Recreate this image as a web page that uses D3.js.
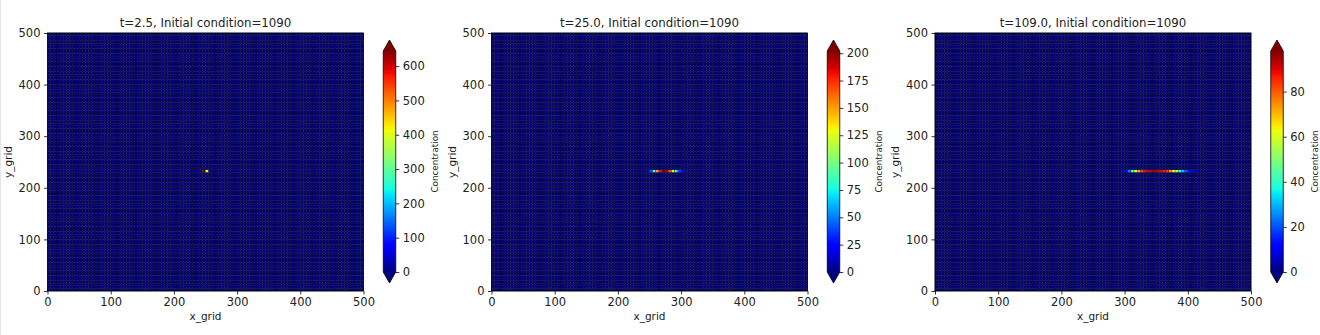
<!DOCTYPE html>
<html>
<head>
<meta charset="utf-8">
<script src="https://cdn.jsdelivr.net/npm/d3@7"></script>
<style>
body { margin: 0; background: #fff; }
svg { display: block; font-family: "DejaVu Sans", sans-serif; }
</style>
</head>
<body>
<script>
// ---- data ----
var gridStep = 5;               // cell size of the model grid
var gridMax = 500;
var axisTicks = [0, 100, 200, 300, 400, 500];
var titles = ["t=2.5, Initial condition=1090", "t=25.0, Initial condition=1090", "t=109.0, Initial condition=1090"];
var plumeRow = 230;             // lower edge (y_grid) of the row holding the plume

var plume1X = [245, 250];
var plume1V = [644, 400];

var plume2X = [245, 250, 255, 260, 265, 270, 275, 280, 285, 290, 295, 300, 305];
var plume2V = [10, 40, 82, 150, 182, 202, 196, 168, 118, 78, 38, 16, 6];

var plume3X = [295, 300, 305, 310, 315, 320, 325, 330, 335, 340, 345, 350, 355, 360, 365, 370, 375, 380, 385, 390, 395, 400, 405, 410];
var plume3V = [5, 12, 24, 40, 58, 72, 82, 88, 91, 93, 97, 92, 90, 88, 84, 74, 64, 54, 42, 31, 21, 13, 8, 4];

var cbarMax = [644, 202, 98];
var cbarTicks1 = [0, 100, 200, 300, 400, 500, 600];
var cbarTicks2 = [0, 25, 50, 75, 100, 125, 150, 175, 200];
var cbarTicks3 = [0, 20, 40, 60, 80];

// ---- jet colormap ----
var jetR = d3.scaleLinear().domain([0, 0.35, 0.66, 0.89, 1]).range([0, 0, 1, 1, 0.5]).clamp(true);
var jetG = d3.scaleLinear().domain([0, 0.125, 0.375, 0.64, 0.91, 1]).range([0, 0, 1, 1, 0, 0]).clamp(true);
var jetB = d3.scaleLinear().domain([0, 0.11, 0.34, 0.65, 1]).range([0.5, 1, 1, 0, 0]).clamp(true);
function jet(t) {
    return d3.rgb(jetR(t) * 255, jetG(t) * 255, jetB(t) * 255).formatHex();
}

var W = 1320, H = 335;
var panelLeft = [47.5, 491.5, 935];
var plotW = 316, plotH = 258, plotTop = 33;
var cbarOff = 335.75, cbarW = 12.5;
var cbarTop = 51, cbarBot = 272, cbarTipTop = 40, cbarTipBot = 283;

var svg = d3.select("body").append("svg")
    .attr("width", W)
    .attr("height", H);
svg.append("rect").attr("x", 0).attr("y", 0).attr("width", 1).attr("height", H).attr("fill", "#e6e6e6");

var defs = svg.append("defs");
var grad = defs.append("linearGradient")
    .attr("id", "jetGrad")
    .attr("x1", 0).attr("y1", 1).attr("x2", 0).attr("y2", 0);
d3.range(0, 1.0001, 0.02).forEach(function (t) {
    grad.append("stop").attr("offset", t).attr("stop-color", jet(t));
});

var plumesX = [plume1X, plume2X, plume3X];
var plumesV = [plume1V, plume2V, plume3V];
var cbarTicks = [cbarTicks1, cbarTicks2, cbarTicks3];
var edges = d3.range(0, gridMax, gridStep);

panelLeft.forEach(function (left, p) {
    var x = d3.scaleLinear().domain([0, gridMax]).range([left, left + plotW]);
    var y = d3.scaleLinear().domain([0, gridMax]).range([plotTop + plotH, plotTop]);
    var vmax = cbarMax[p];

    // concentration field: zero everywhere except the plume row
    var cells = [];
    edges.forEach(function (gy) {
        edges.forEach(function (gx) {
            cells.push({ x: gx, y: gy, v: 0 });
        });
    });
    plumesX[p].forEach(function (px, i) {
        var c = cells[(plumeRow / gridStep) * edges.length + px / gridStep];
        c.v = plumesV[p][i];
    });

    var g = svg.append("g");
    g.selectAll("rect.cell")
        .data(cells)
        .enter().append("rect")
        .attr("class", "cell")
        .attr("x", function (d) { return x(d.x); })
        .attr("y", function (d) { return y(d.y + gridStep); })
        .attr("width", x(gridStep) - x(0))
        .attr("height", y(0) - y(gridStep))
        .attr("fill", function (d) { return jet(d.v / vmax); })
        .attr("stroke", "#000")
        .attr("stroke-width", 0.35)
        .attr("stroke-opacity", 0.8);

    // frame
    g.append("rect")
        .attr("x", left).attr("y", plotTop)
        .attr("width", plotW).attr("height", plotH)
        .attr("fill", "none").attr("stroke", "#000").attr("stroke-width", 0.8);

    var ax = g.append("g")
        .attr("transform", "translate(0," + (plotTop + plotH) + ")")
        .call(d3.axisBottom(x).tickValues(axisTicks).tickSize(3.5).tickSizeOuter(0).tickPadding(3));
    var ay = g.append("g")
        .attr("transform", "translate(" + left + ",0)")
        .call(d3.axisLeft(y).tickValues(axisTicks).tickSize(3.5).tickSizeOuter(0).tickPadding(3.5));
    [ax, ay].forEach(function (a) {
        a.select(".domain").remove();
        a.attr("font-size", 11.5).attr("font-family", "DejaVu Sans");
        a.selectAll("line").attr("stroke-width", 0.8);
        a.selectAll("text").attr("fill", "#222");
    });

    g.append("text")
        .attr("x", left + plotW / 2).attr("y", plotTop - 6.5)
        .attr("text-anchor", "middle").attr("font-size", 11.8).attr("fill", "#222")
        .text(titles[p]);
    g.append("text")
        .attr("x", left + plotW / 2).attr("y", 320)
        .attr("text-anchor", "middle").attr("font-size", 10.5).attr("fill", "#222")
        .text("x_grid");
    g.append("text")
        .attr("transform", "translate(" + (left - 39.5) + "," + (plotTop + plotH / 2) + ") rotate(-90)")
        .attr("dy", "0.35em")
        .attr("text-anchor", "middle").attr("font-size", 10.5).attr("fill", "#222")
        .text("y_grid");

    // colorbar with extend arrows
    var cx0 = left + cbarOff, cx1 = cx0 + cbarW, cxm = cx0 + cbarW / 2;
    var cs = d3.scaleLinear().domain([0, vmax]).range([cbarBot, cbarTop]);
    g.append("rect")
        .attr("x", cx0).attr("y", cbarTop)
        .attr("width", cbarW).attr("height", cbarBot - cbarTop)
        .attr("fill", "url(#jetGrad)");
    g.append("path")
        .attr("d", "M" + cx0 + "," + cbarTop + "L" + cxm + "," + cbarTipTop + "L" + cx1 + "," + cbarTop + "Z")
        .attr("fill", jet(1));
    g.append("path")
        .attr("d", "M" + cx0 + "," + cbarBot + "L" + cxm + "," + cbarTipBot + "L" + cx1 + "," + cbarBot + "Z")
        .attr("fill", jet(0));
    g.append("path")
        .attr("d", "M" + cx0 + "," + cbarTop + "L" + cxm + "," + cbarTipTop + "L" + cx1 + "," + cbarTop +
            "L" + cx1 + "," + cbarBot + "L" + cxm + "," + cbarTipBot + "L" + cx0 + "," + cbarBot + "Z")
        .attr("fill", "none").attr("stroke", "#000").attr("stroke-width", 0.8);

    var ac = g.append("g")
        .attr("transform", "translate(" + cx1 + ",0)")
        .call(d3.axisRight(cs).tickValues(cbarTicks[p]).tickSize(3.5).tickSizeOuter(0).tickPadding(3.5));
    ac.select(".domain").remove();
    ac.attr("font-size", 11.5).attr("font-family", "DejaVu Sans");
    ac.selectAll("line").attr("stroke-width", 0.8);
    ac.selectAll("text").attr("fill", "#222");

    var maxW = 0;
    ac.selectAll("text").each(function () { maxW = Math.max(maxW, this.getComputedTextLength()); });
    g.append("text")
        .attr("transform", "translate(" + (cx1 + 7 + maxW + 10.5) + "," + ((cbarTop + cbarBot) / 2) + ") rotate(-90)")
        .attr("dy", "0.35em")
        .attr("text-anchor", "middle").attr("font-size", 8.8).attr("fill", "#222")
        .text("Concentration");
});
</script>
</body>
</html>
